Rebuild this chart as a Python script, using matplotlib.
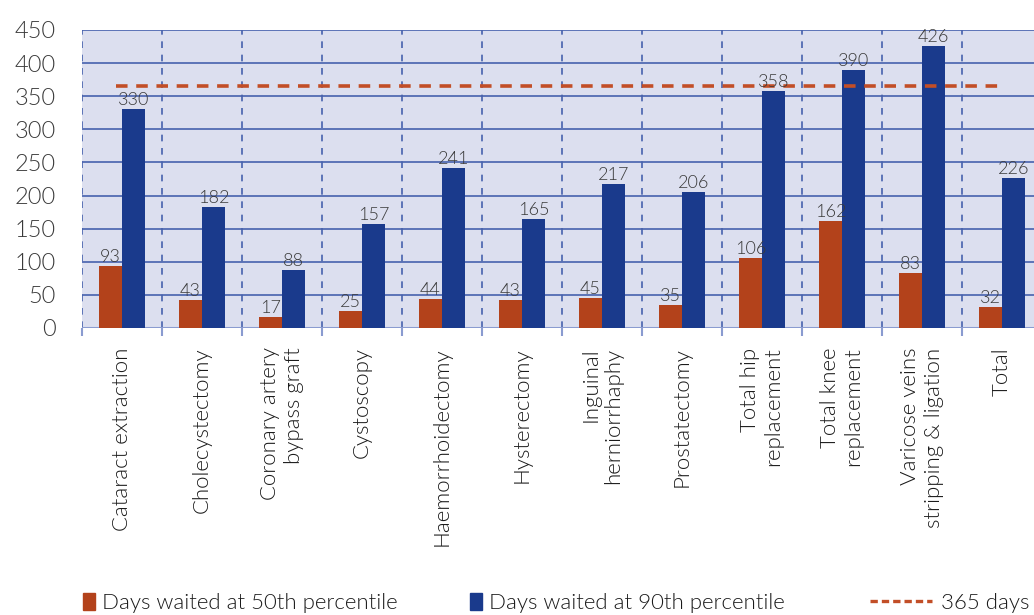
import matplotlib
matplotlib.use("Agg")
import matplotlib.pyplot as plt
from matplotlib.patches import Patch
from matplotlib.lines import Line2D
import numpy as np

plt.rcParams['font.family'] = ['Lato', 'DejaVu Sans']
plt.rcParams['font.weight'] = 300

procedures = [
    "Cataract extraction", "Cholecystectomy", "Coronary artery\nbypass graft",
    "Cystoscopy", "Haemorrhoidectomy", "Hysterectomy", "Inguinal\nherniorrhaphy",
    "Prostatectomy", "Total hip\nreplacement", "Total knee\nreplacement",
    "Varicose veins\nstripping & ligation", "Total",
]
p50 = [93, 43, 17, 25, 44, 43, 45, 35, 106, 162, 83, 32]
p90 = [330, 182, 88, 157, 241, 165, 217, 206, 358, 390, 426, 226]
threshold = 365

red = "#b3421b"
blue = "#1a3a8c"
grid_blue = "#4762ad"
text_col = "#3a3a3a"

fig = plt.figure(figsize=(10.34, 6.15), dpi=100)
ax = fig.add_axes([82 / 1034, 1 - 328 / 615, 960 / 1034, 298 / 615])
ax.set_facecolor("#dcdfef")

x = np.arange(len(procedures))
w = 0.29
b50 = ax.bar(x - w / 2, p50, width=w, color=red, zorder=3)
b90 = ax.bar(x + w / 2, p90, width=w, color=blue, zorder=3)

for bars, vals in ((b50, p50), (b90, p90)):
    for rect, v in zip(bars, vals):
        ax.text(rect.get_x() + rect.get_width() / 2, v + 1.5, str(v),
                ha="center", va="bottom", fontsize=13, color=text_col, zorder=5)

# 365-day reference line
ax.plot([x[0] - 0.07, x[-1] - 0.05], [threshold, threshold], color="#c24e27",
        lw=2.6, dashes=(3.2, 2.4), zorder=4)

ax.set_xlim(-0.5, len(procedures) - 0.5)
ax.set_ylim(0, 450)
ax.set_yticks(np.arange(0, 451, 50))

# horizontal grid
for yv in np.arange(50, 451, 50):
    ax.axhline(yv, color=grid_blue, lw=1.2, zorder=1)
ax.axhline(0, color="#8a9bd0", lw=2.2, zorder=2)

# dashed category separators
for xb in np.arange(-0.5, len(procedures), 1.0):
    ax.axvline(xb, color=grid_blue, lw=1.2, dashes=(4, 4), zorder=1)

for s in ax.spines.values():
    s.set_visible(False)

ax.set_xticks(np.arange(-0.5, len(procedures), 1.0), minor=False)
ax.set_xticklabels([])
ax.tick_params(axis="x", which="major", length=6, width=1.5, color="#8a9bd0", direction="out")
ax.set_xticks(x, minor=True)
ax.set_xticklabels(procedures, minor=True, rotation=90, ha="center", va="top",
                   multialignment="right", fontsize=16, color="#1a1a1a")
ax.tick_params(axis="x", which="minor", length=0, pad=14)
ax.tick_params(axis="y", length=0, pad=19, labelsize=17, labelcolor=text_col)

# legend entries placed along the bottom edge
leg_kw = dict(frameon=False, fontsize=16, borderpad=0, borderaxespad=0,
              labelcolor="#1a1a1a", loc="center left")
fig.legend(handles=[Patch(color=red)], labels=["Days waited at 50th percentile"],
           bbox_to_anchor=(83 / 1034, 1 - 603 / 615), handlelength=0.55,
           handleheight=0.8, handletextpad=0.3, **leg_kw)
fig.legend(handles=[Patch(color=blue)], labels=["Days waited at 90th percentile"],
           bbox_to_anchor=(470 / 1034, 1 - 603 / 615), handlelength=0.55,
           handleheight=0.8, handletextpad=0.3, **leg_kw)
fig.legend(handles=[Line2D([0], [0], color="#c24e27", lw=2.4, dashes=(2.2, 1.2))],
           labels=["365 days"], bbox_to_anchor=(870 / 1034, 1 - 603 / 615),
           handlelength=2.8, handletextpad=0.4, **leg_kw)

fig.savefig("out.png", dpi=100)
